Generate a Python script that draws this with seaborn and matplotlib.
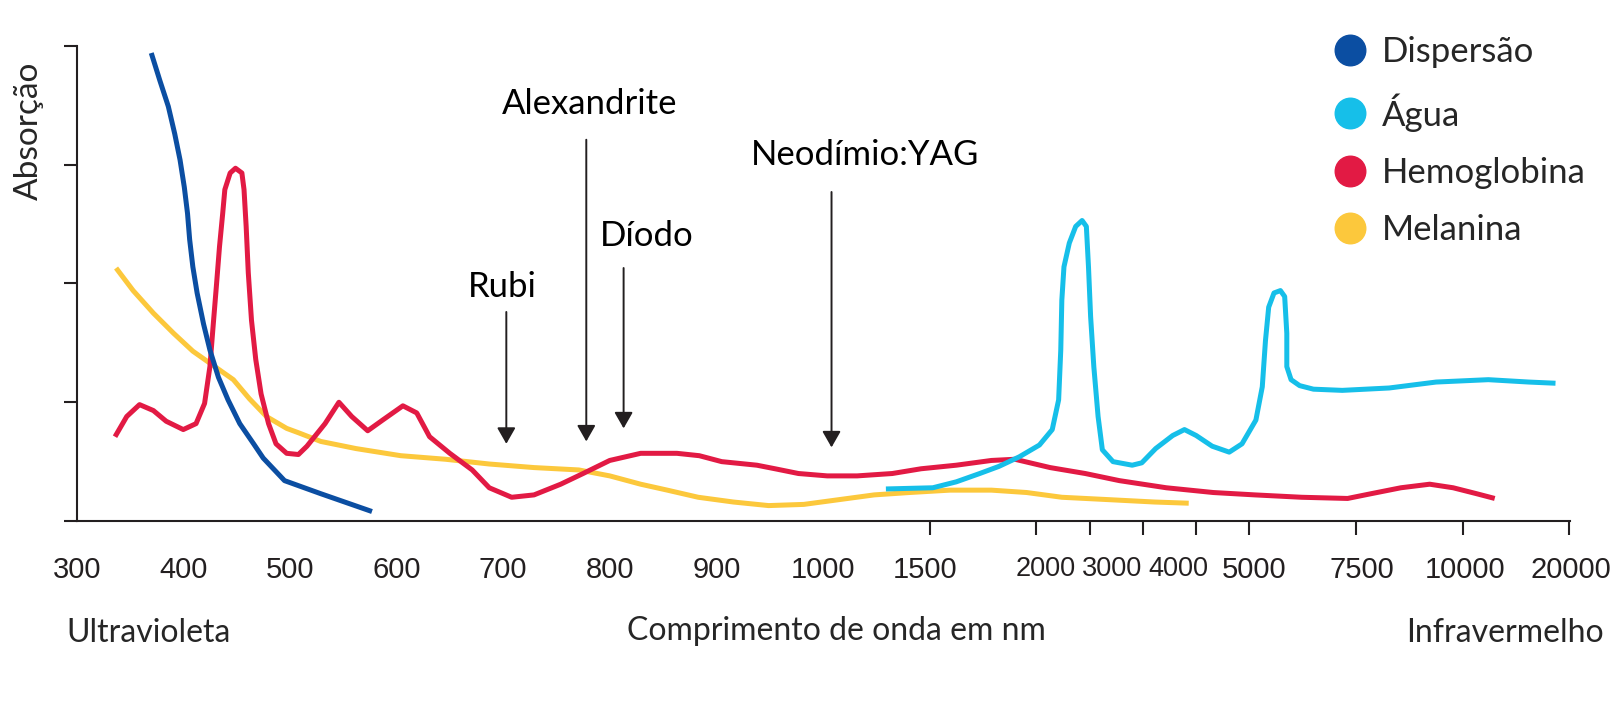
import pandas as pd
import matplotlib.pyplot as plt
import seaborn as sns
from matplotlib.lines import Line2D

# eixo x: 1 unidade = 1 marca (escala irregular do original)
tick_pos = [0, 1, 2, 3, 4, 5, 6, 7, 8, 9, 9.5, 10, 10.5, 11, 12, 13, 14]
label_pos = [0, 1, 2, 3, 4, 5, 6, 7, 7.96, 9.09, 9.71, 10.33, 11.04, 12.05, 13.02, 14.01]
tick_labels = ['300', '400', '500', '600', '700', '800', '900', '1000', '1500',
               '2000', '3000', '4000', '5000', '7500', '10000', '20000']

disp_x = [0.70, 0.78, 0.86, 0.92, 0.97, 1.01, 1.04, 1.06, 1.09, 1.13, 1.19, 1.25, 1.33, 1.42,
          1.53, 1.66, 1.75, 1.95, 2.29, 2.77]
disp_y = [3.94, 3.71, 3.49, 3.26, 3.04, 2.81, 2.59, 2.37, 2.14, 1.92, 1.66, 1.44, 1.21, 1.02,
          0.82, 0.65, 0.53, 0.34, 0.23, 0.08]

agua_x = [7.59, 8.03, 8.25, 8.47, 8.65, 8.84, 9.03, 9.15, 9.21, 9.23, 9.24, 9.26, 9.31, 9.37,
          9.43, 9.47, 9.49, 9.51, 9.54, 9.58, 9.62, 9.72, 9.90, 9.99, 10.12, 10.28, 10.39,
          10.50, 10.65, 10.81, 10.93, 11.06, 11.12, 11.15, 11.18, 11.23, 11.29, 11.33, 11.35,
          11.35, 11.39, 11.47, 11.60, 11.87, 12.31, 12.75, 13.24, 13.62, 13.87]
agua_y = [0.27, 0.28, 0.33, 0.40, 0.46, 0.54, 0.64, 0.77, 1.02, 1.44, 1.86, 2.14, 2.34, 2.48,
          2.53, 2.48, 2.14, 1.72, 1.30, 0.88, 0.60, 0.50, 0.47, 0.49, 0.61, 0.72, 0.77,
          0.72, 0.63, 0.58, 0.65, 0.85, 1.13, 1.52, 1.80, 1.92, 1.94, 1.89, 1.58,
          1.30, 1.19, 1.14, 1.11, 1.10, 1.12, 1.17, 1.19, 1.17, 1.16]

hemo_x = [0.36, 0.47, 0.59, 0.72, 0.84, 1.00, 1.12, 1.20, 1.25, 1.28, 1.31, 1.34, 1.37, 1.39,
          1.44, 1.49, 1.55, 1.57, 1.59, 1.61, 1.64, 1.68, 1.73, 1.80, 1.87, 1.97, 2.08, 2.16,
          2.33, 2.46, 2.58, 2.73, 2.87, 3.06, 3.19, 3.31, 3.50, 3.71, 3.87, 4.08, 4.29, 4.54,
          4.75, 5.00, 5.29, 5.63, 5.84, 6.05, 6.38, 6.55, 6.77, 7.04, 7.32, 7.65, 7.92, 8.25,
          8.58, 8.80, 9.13, 9.46, 9.78, 10.22, 10.66, 11.05, 11.49, 11.92, 12.14, 12.42, 12.69,
          12.91, 13.13, 13.30]
hemo_y = [0.71, 0.88, 0.98, 0.93, 0.84, 0.77, 0.82, 0.99, 1.30, 1.64, 1.97, 2.31, 2.59, 2.79,
          2.93, 2.97, 2.93, 2.79, 2.48, 2.09, 1.69, 1.36, 1.07, 0.82, 0.65, 0.57, 0.56, 0.63,
          0.82, 1.00, 0.88, 0.76, 0.85, 0.97, 0.91, 0.71, 0.57, 0.43, 0.28, 0.20, 0.22, 0.31,
          0.40, 0.51, 0.57, 0.57, 0.55, 0.50, 0.47, 0.44, 0.40, 0.38, 0.38, 0.40, 0.44, 0.47,
          0.51, 0.52, 0.45, 0.40, 0.34, 0.28, 0.24, 0.22, 0.20, 0.19, 0.23, 0.28, 0.31,
          0.28, 0.23, 0.19]

mela_x = [0.37, 0.53, 0.72, 0.91, 1.09, 1.28, 1.47, 1.62, 1.78, 1.97, 2.09, 2.29, 2.62, 3.04,
          3.46, 3.87, 4.29, 4.71, 5.00, 5.29, 5.54, 5.83, 6.16, 6.49, 6.82, 7.15, 7.48, 7.81,
          8.19, 8.58, 8.91, 9.24, 9.68, 10.11, 10.43]
mela_y = [2.13, 1.94, 1.75, 1.58, 1.43, 1.31, 1.19, 1.03, 0.88, 0.78, 0.74, 0.67, 0.61, 0.55,
          0.52, 0.48, 0.45, 0.43, 0.38, 0.31, 0.26, 0.20, 0.16, 0.13, 0.14, 0.18, 0.22, 0.24,
          0.26, 0.26, 0.24, 0.20, 0.18, 0.16, 0.15]

series = ['Dispersão', 'Água', 'Hemoglobina', 'Melanina']
colors = ['#0b4ea2', '#16bfe9', '#e21a44', '#fcc83c']

lasers = ['Rubi', 'Alexandrite', 'Díodo', 'Neodímio:YAG']
laser_x = [4.03, 4.78, 5.13, 7.08]
laser_top = [1.76, 3.21, 2.13, 2.77]
laser_tip = [0.65, 0.67, 0.78, 0.62]
laser_lab_x = [3.99, 4.81, 5.35, 7.39]
laser_lab_y = [1.97, 3.51, 2.40, 3.08]

df = pd.concat([
    pd.DataFrame({'pos': disp_x, 'abs': disp_y, 'serie': 'Dispersão'}),
    pd.DataFrame({'pos': agua_x, 'abs': agua_y, 'serie': 'Água'}),
    pd.DataFrame({'pos': hemo_x, 'abs': hemo_y, 'serie': 'Hemoglobina'}),
    pd.DataFrame({'pos': mela_x, 'abs': mela_y, 'serie': 'Melanina'}),
], ignore_index=True)

sns.set_style('ticks')
plt.rcParams['font.family'] = ['Lato', 'DejaVu Sans']
ink = '#231f20'

fig = plt.figure(figsize=(16.2, 7.06), dpi=100)
ax = fig.add_axes([0.0473, 0.262, 0.9221, 0.673])

# ordem de desenho: amarelo por baixo, vermelho, azul, ciano
for s in ['Melanina', 'Hemoglobina', 'Dispersão', 'Água']:
    sns.lineplot(data=df[df.serie == s], x='pos', y='abs', color=colors[series.index(s)],
                 sort=False, estimator=None, lw=3.6, ax=ax, legend=False,
                 solid_capstyle='butt', solid_joinstyle='round')

ax.set_xlim(0, 14)
ax.set_ylim(0, 4)
sns.despine(ax=ax)
for sp in ['left', 'bottom']:
    ax.spines[sp].set_linewidth(1.5)
    ax.spines[sp].set_color(ink)

ax.set_xticks(label_pos)
ax.set_xticklabels(tick_labels, family='Liberation Sans', fontsize=21, color=ink)
# os rótulos apertados (2000, 3000, 4000) ficam um pouco menores
for lab in ax.get_xticklabels():
    if lab.get_text() in ('2000', '3000', '4000'):
        lab.set_fontsize(19.5)
ax.tick_params(axis='x', which='major', length=0, pad=25)
ax.set_xticks(tick_pos, minor=True)
ax.tick_params(axis='x', which='minor', length=10, width=1.5, color=ink, direction='out')
ax.set_yticks([0, 1, 2, 3, 4])
ax.set_yticklabels([])
ax.tick_params(axis='y', length=9.5, width=1.5, color=ink, direction='out')
ax.set_xlabel('')
ax.set_ylabel('')

for name, x, top, tip, lx, ly in zip(lasers, laser_x, laser_top, laser_tip, laser_lab_x, laser_lab_y):
    ax.annotate('', xy=(x, tip), xytext=(x, top),
                arrowprops=dict(arrowstyle='-|>,head_length=0.7,head_width=0.4',
                                mutation_scale=14, lw=1.4, color=ink, shrinkA=0, shrinkB=0))
    ax.text(lx, ly, name, ha='center', va='center', fontsize=25, color='black')

handles = [Line2D([], [], ls='none', marker='o', markersize=22, color=c) for c in colors]
fig.legend(handles, series, loc='upper left', bbox_to_anchor=(0.812, 0.969), frameon=False,
           fontsize=25, labelspacing=0.73, handletextpad=0.3, handlelength=1.2,
           borderaxespad=0)

fig.text(29 / 1620, 1 - 131 / 706, 'Absorção', rotation=90, ha='center', va='center', fontsize=24)
fig.text(66 / 1620, 1 - 633 / 706, 'Ultravioleta', ha='left', va='center', fontsize=23)
fig.text(836 / 1620, 1 - 631 / 706, 'Comprimento de onda em nm', ha='center', va='center', fontsize=23)
fig.text(1604 / 1620, 1 - 633 / 706, 'Infravermelho', ha='right', va='center', fontsize=23)

plt.savefig('out.png', dpi=100)
